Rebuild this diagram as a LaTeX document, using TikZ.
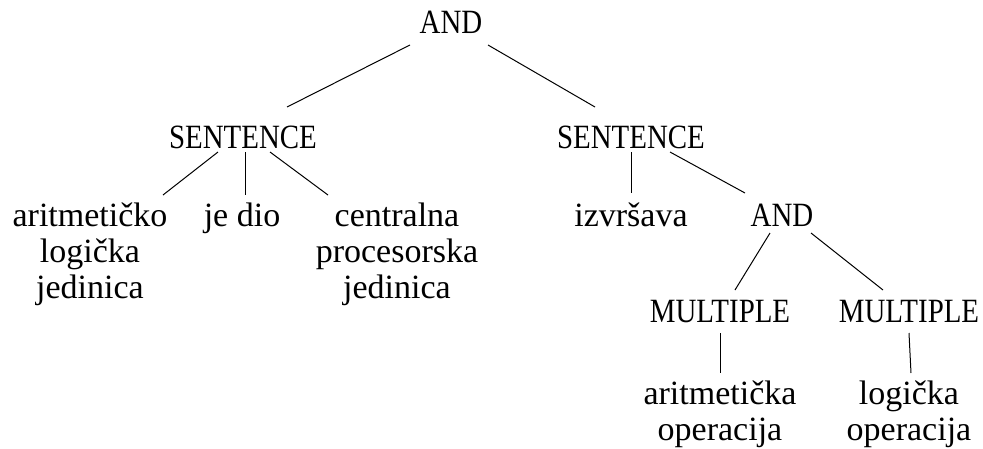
\documentclass[tikz,border=0pt]{standalone}
\usepackage{fontspec}
\setmainfont{Liberation Serif}
\newfontfamily\capsfont[FakeStretch=0.85]{Liberation Serif}
\begin{document}
\begin{tikzpicture}[x=1pt,y=-1pt,
  lbl/.style={inner sep=0pt,anchor=base,align=center,font=\fontsize{34}{36}\selectfont},
  caps/.style={lbl,font=\fontsize{34}{36}\selectfont\capsfont},
  edge/.style={draw=black,line width=1pt}]
\fill[white] (0,0) rectangle (983,448);
\useasboundingbox (0,0) rectangle (983,448);
% base anchor of a multi-line node = baseline of its last line
\node[caps] (and1) at (451,33) {AND};
\node[caps] (s1) at (243,148) {SENTENCE};
\node[caps] (s2) at (631,148) {SENTENCE};
\node[lbl] (alu) at (90,298) {aritmetičko\\logička\\jedinica};
\node[lbl] (jedio) at (242,226) {je dio};
\node[lbl] (cpu) at (397,298) {centralna\\procesorska\\jedinica};
\node[lbl] (izv) at (631,226) {izvršava};
\node[caps] (and2) at (782,226) {AND};
\node[caps] (m1) at (720,322) {MULTIPLE};
\node[caps] (m2) at (909,322) {MULTIPLE};
\node[lbl] (op1) at (720,440) {aritmetička\\operacija};
\node[lbl] (op2) at (909,440) {logička\\operacija};
\draw[edge] ([shift={(-41,12)}]and1.base) -- ([shift={(44,-41)}]s1.base);
\draw[edge] ([shift={(37,12)}]and1.base) -- ([shift={(-36,-41)}]s2.base);
\draw[edge] ([shift={(-25,4)}]s1.base) -- ([shift={(73,-103)}]alu.base);
\draw[edge] ([shift={(2,4)}]s1.base) -- ([shift={(3,-31)}]jedio.base);
\draw[edge] ([shift={(27,4)}]s1.base) -- ([shift={(-69,-103)}]cpu.base);
\draw[edge] ([shift={(0,4)}]s2.base) -- ([shift={(0,-33)}]izv.base);
\draw[edge] ([shift={(39,4)}]s2.base) -- ([shift={(-37,-33)}]and2.base);
\draw[edge] ([shift={(-12,7)}]and2.base) -- ([shift={(15,-32)}]m1.base);
\draw[edge] ([shift={(29,7)}]and2.base) -- ([shift={(-26,-32)}]m2.base);
\draw[edge] ([shift={(0,11)}]m1.base) -- ([shift={(0,-67)}]op1.base);
\draw[edge] ([shift={(0,11)}]m2.base) -- ([shift={(2,-67)}]op2.base);
\end{tikzpicture}
\end{document}
